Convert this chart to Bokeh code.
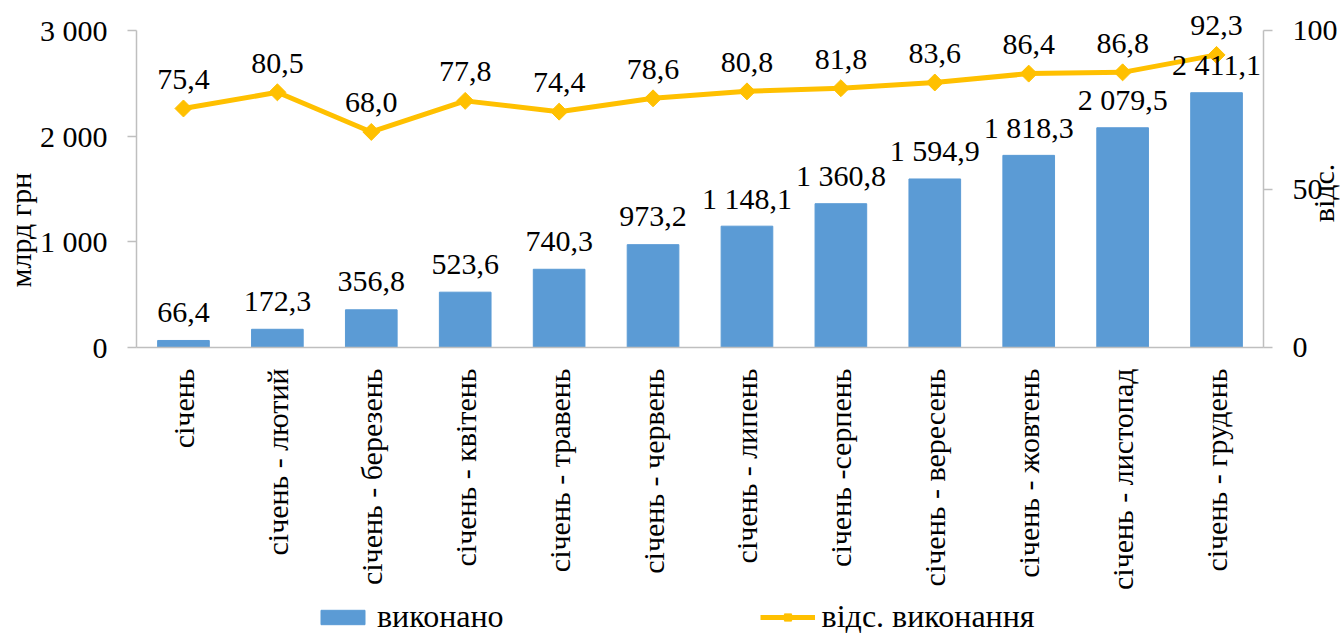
from math import pi
from bokeh.plotting import figure
from bokeh.models import (ColumnDataSource, Range1d, LinearAxis, FixedTicker,
                          Legend, LegendItem, FactorRange, Title, GridBox)
from bokeh.core.properties import value
from bokeh.embed import file_html
from bokeh.resources import INLINE

categories = ["січень", "січень - лютий", "січень - березень", "січень - квітень",
              "січень - травень", "січень - червень", "січень - липень",
              "січень -серпень", "січень - вересень", "січень - жовтень",
              "січень - листопад", "січень - грудень"]
executed = [66.4, 172.3, 356.8, 523.6, 740.3, 973.2, 1148.1, 1360.8,
            1594.9, 1818.3, 2079.5, 2411.1]
pct = [75.4, 80.5, 68.0, 77.8, 74.4, 78.6, 80.8, 81.8, 83.6, 86.4, 86.8, 92.3]
left_ticks = [0, 1000, 2000, 3000]
left_tick_labels = ["0", "1 000", "2 000", "3 000"]
right_ticks = [0, 50, 100]
right_tick_labels = ["0", "50", "100"]
left_title = "млрд грн"
right_title = "відс."
right_title_at = 39.5
series_names = ["виконано", "відс. виконання"]

FONT = "Liberation Serif"
BLUE = "#5B9BD5"
GOLD = "#FFC000"
GREY = "#BFBFBF"

AX_TOP_PX = 30
FRAME_H = 347
LEFT_MAX = 3000
RIGHT_MAX = 100
scale = FRAME_H / (FRAME_H - AX_TOP_PX)


def fmt(v):
    return f"{v:,.1f}".replace(",", " ").replace(".", ",")


src = ColumnDataSource(dict(
    cat=categories, val=executed, pct=pct,
    val_lbl=[fmt(v) for v in executed],
    pct_lbl=[fmt(v) for v in pct],
))

p = figure(x_range=FactorRange(factors=categories, range_padding=0),
           y_range=Range1d(0, LEFT_MAX * scale),
           frame_width=1127, frame_height=FRAME_H,
           min_border_left=136, min_border_top=0, min_border_bottom=0,
           min_border_right=0,
           output_backend="svg", toolbar_location=None)
p.extra_y_ranges = {"pct": Range1d(0, RIGHT_MAX * scale)}
p.frame_align = False

p.outline_line_color = None
p.xgrid.grid_line_color = None
p.ygrid.grid_line_color = None
p.background_fill_color = "white"
p.border_fill_color = "white"

bars = p.vbar(x="cat", top="val", width=0.55, source=src,
              fill_color=BLUE, line_color=BLUE)
line = p.line(x="cat", y="pct", source=src, y_range_name="pct",
              line_color=GOLD, line_width=5)
pts = p.scatter(x="cat", y="pct", source=src, y_range_name="pct",
                marker="square", angle=pi / 4, size=12,
                fill_color=GOLD, line_color=GOLD)

p.text(x="cat", y="val", text="val_lbl", source=src,
       text_font=value(FONT), text_font_size="30px", text_color="black",
       text_align="center", text_baseline="alphabetic", y_offset=-28)
p.text(x="cat", y="pct", text="pct_lbl", source=src, y_range_name="pct",
       text_font=value(FONT), text_font_size="30px", text_color="black",
       text_align="center", text_baseline="alphabetic", y_offset=-29)

ya = p.yaxis[0]
ya.ticker = FixedTicker(ticks=left_ticks)
ya.major_label_overrides = dict(zip(left_ticks, left_tick_labels))
ya.bounds = (0, LEFT_MAX)

xa = p.xaxis[0]
xa.major_label_orientation = pi / 2
xa.major_tick_line_color = None
xa.major_tick_out = 0
xa.major_label_standoff = 21

ra = LinearAxis(y_range_name="pct", ticker=FixedTicker(ticks=right_ticks))
ra.major_label_overrides = dict(zip(right_ticks, right_tick_labels))
ra.bounds = (0, RIGHT_MAX)
p.add_layout(ra, "right")

for ax in (ya, xa, ra):
    ax.axis_line_color = GREY
    ax.axis_line_width = 1.5
    ax.major_label_text_font = FONT
    ax.major_label_text_font_size = "30px"
    ax.major_label_text_color = "black"
    ax.minor_tick_line_color = None
for ax in (ya, ra):
    ax.major_tick_line_color = GREY
    ax.major_tick_line_width = 1.5
    ax.major_tick_out = 9
    ax.major_tick_in = 0
ya.major_label_standoff = 20
ra.major_label_standoff = 20

# right-hand title (reads bottom to top) as the lone label of an extra axis
rt = LinearAxis(y_range_name="pct", ticker=FixedTicker(ticks=[right_title_at]))
rt.major_label_overrides = {right_title_at: right_title}
rt.major_label_orientation = pi / 2
rt.major_label_standoff = -17
rt.axis_line_color = None
rt.major_tick_line_color = None
rt.major_tick_out = 0
rt.major_tick_in = 0
rt.minor_tick_line_color = None
rt.major_label_text_font = FONT
rt.major_label_text_font_size = "30px"
rt.major_label_text_color = "black"
p.add_layout(rt, "right")

p.add_layout(Title(text=left_title, align="left", offset=60,
                   text_font=FONT, text_font_size="30px",
                   text_font_style="normal", text_color="black",
                   standoff=0), "left")

# legend: a transparent overlay figure sharing the same grid cell
lf = figure(width=1341, height=635, min_border=0,
            x_axis_location=None, y_axis_location=None,
            output_backend="svg", toolbar_location=None)
lf.frame_align = False
lf.title = None
lf.outline_line_color = None
lf.grid.visible = False
lf.background_fill_alpha = 0
lf.border_fill_alpha = 0
nan = float("nan")
blank = ColumnDataSource(dict(x=[nan], y=[nan]))
lb = lf.vbar(x="x", top="y", width=0.55, source=blank,
             fill_color=BLUE, line_color=BLUE)
ll = lf.line(x="x", y="y", source=blank, line_color=GOLD, line_width=5)
ls = lf.scatter(x="x", y="y", source=blank, marker="square", angle=pi / 4,
                size=14, fill_color=GOLD, line_color=GOLD)

legend = Legend(items=[LegendItem(label=series_names[0], renderers=[lb]),
                       LegendItem(label=series_names[1], renderers=[ll, ls])],
                location=(315, 0), orientation="horizontal",
                spacing=256, glyph_width=55, glyph_height=18,
                label_standoff=7, padding=0, margin=0,
                border_line_color=None, background_fill_alpha=0,
                label_text_font=FONT, label_text_font_size="32px",
                label_text_color="black")
lf.add_layout(legend)

grid = GridBox(children=[(p, 0, 0), (lf, 0, 0)])

open("out.html", "w").write(file_html(grid, INLINE))
